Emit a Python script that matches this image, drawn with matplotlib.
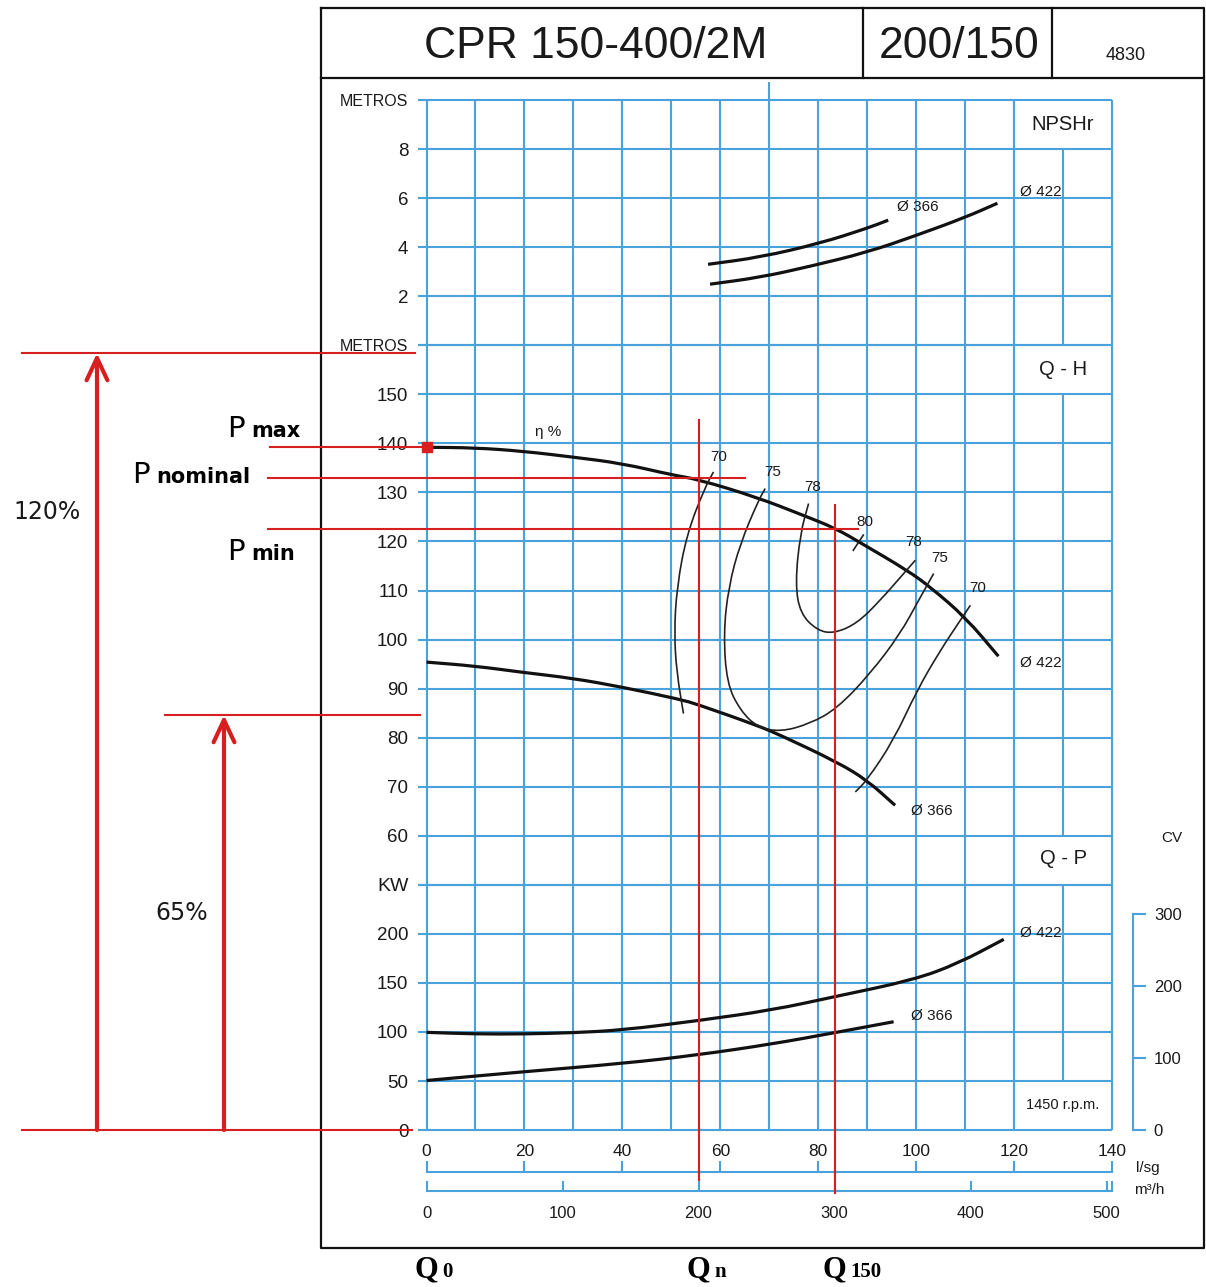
import numpy as np
import matplotlib
matplotlib.use("Agg")
import matplotlib.pyplot as plt
from matplotlib.path import Path
from matplotlib.patches import PathPatch
from matplotlib.transforms import blended_transform_factory as blend, offset_copy

plt.rcParams['font.family'] = ['Liberation Sans', 'DejaVu Sans']

# --- values (flow Q in l/s) ---
# Q-H curves (m)
H422_Q = [0, 9.9, 19.7, 29.9, 40.0, 50.4, 55.3, 67.5, 77.0, 83.5, 89.2, 98.2, 102.9, 110.1, 116.8]
H422_H = [139.2, 139.1, 138.4, 137.2, 135.9, 133.5, 132.7, 129.0, 125.3, 122.7, 119.4, 114.1, 110.7, 104.5, 96.6]
H366_Q = [0, 9.9, 19.7, 29.9, 40.0, 51.8, 55.3, 67.5, 72.3, 83.9, 90.0, 95.7]
H366_H = [95.4, 94.6, 93.3, 92.1, 90.3, 87.8, 86.8, 82.5, 80.5, 75.0, 71.3, 66.2]

# NPSHr curves (m)
NP422_Q = [57.9, 68.2, 78.4, 90.0, 100.2, 110.1, 116.6]
NP422_V = [2.49, 2.77, 3.22, 3.79, 4.49, 5.22, 5.79]
NP366_Q = [57.5, 68.2, 80.4, 90.0, 94.3]
NP366_V = [3.30, 3.59, 4.16, 4.77, 5.10]

# Q-P curves (kW)
P422_Q = [0, 10.0, 19.8, 30.1, 40.0, 55.3, 70.6, 83.3, 99.4, 108.6, 117.9]
P422_P = [99.6, 97.9, 97.9, 99.2, 101.9, 111.4, 122.3, 135.9, 152.9, 169.9, 194.4]
P366_Q = [0, 19.7, 40.4, 55.3, 70.6, 83.3, 95.4]
P366_P = [50.5, 59.4, 68.0, 76.5, 87.7, 99.2, 110.4]

# iso-efficiency lines (Q, H)
ETA70L_Q = [58.61, 56.92, 53.18, 51.13, 50.58, 51.13, 52.48]
ETA70L_H = [134.17, 131.11, 121.61, 110.72, 101.22, 93.07, 84.91]
ETA75_Q = [69.17, 67.81, 64.06, 61.68, 60.66, 61.35, 64.06, 67.48, 72.25, 78.38, 83.83, 90.65, 96.78, 100.51, 103.58]
ETA75_H = [130.78, 128.40, 119.57, 110.72, 101.22, 91.03, 85.59, 82.18, 81.16, 82.87, 85.93, 93.07, 101.22, 108.01, 113.46]
ETA78_Q = [78.03, 76.33, 75.31, 76.33, 79.75, 83.14, 87.92, 92.69, 97.45, 99.84]
ETA78_H = [127.73, 121.61, 111.42, 105.30, 101.90, 101.22, 103.26, 108.01, 113.46, 116.17]
ETA70R_Q = [87.57, 89.96, 95.40, 100.18, 104.95, 109.03, 111.08]
ETA70R_H = [68.93, 71.32, 79.47, 89.66, 97.82, 103.94, 106.99]
ETA80_Q = [87.16, 89.21]
ETA80_H = [118.2, 121.3]
ETA_LABELS = ['70', '75', '78', '80', '78', '75', '70']
ETA_LAB_Q = [59.6, 70.6, 78.8, 89.6, 99.4, 104.9, 112.5]
ETA_LAB_H = [137.2, 134.1, 131.1, 123.9, 119.8, 116.6, 110.5]

# operating points
H_MAX, H_NOM, H_MIN = 139.2, 133.0, 122.5
H_120, H_65 = 158.4, 84.6
QN_M3H, Q150_M3H = 200, 300

# axis ticks
NPSH_TICKS = [0, 2, 4, 6, 8, 10]
NPSH_LABELS = ['', '2', '4', '6', '8', 'METROS']
QH_TICKS = list(range(50, 161, 10))
QH_LABELS = [''] + [str(v) for v in range(60, 151, 10)] + ['METROS']
QP_TICKS = [0, 50, 100, 150, 200, 250]
QP_LABELS = ['0', '50', '100', '150', '200', 'KW']
LS_TICKS = list(range(0, 141, 20))
M3H_TICKS = [0, 100, 200, 300, 400, 500]
CV_TICKS = [0, 100, 200, 300]
KW_PER_CV = 0.7355

# --- layout (pixels) ---
W, HT = 1206, 1287
GRID = '#4aa2dc'
RED = '#d81f1f'
INK = '#1a1a1a'
X_LO = -1.74
LEFT, RIGHT = 418, 1112
TOP, ROW = 100, 49.05

fig = plt.figure(figsize=(W / 100, HT / 100), dpi=100)

ov = fig.add_axes([0, 0, 1, 1])
ov.set_xlim(0, W)
ov.set_ylim(HT, 0)
ov.axis('off')
ov.set_zorder(5)


def panel(r0, r1):
    top, bot = TOP + r0 * ROW, TOP + r1 * ROW
    ax = fig.add_axes([LEFT / W, 1 - bot / HT, (RIGHT - LEFT) / W, (bot - top) / HT])
    ax.set_xlim(X_LO, 140)
    ax.set_facecolor('none')
    for s in ax.spines.values():
        s.set_visible(False)
    ax.set_xticks([])
    return ax


def smooth(ax, xs, ys, **kw):
    # draw the read points as one rounded path (quadratic segments between midpoints)
    pts = np.column_stack([xs, ys])
    if len(pts) < 3:
        ax.plot(xs, ys, **kw)
        return
    verts, codes = [pts[0]], [Path.MOVETO]
    verts.append((pts[0] + pts[1]) / 2)
    codes.append(Path.LINETO)
    for i in range(1, len(pts) - 1):
        verts += [pts[i], (pts[i] + pts[i + 1]) / 2]
        codes += [Path.CURVE3, Path.CURVE3]
    verts.append(pts[-1])
    codes.append(Path.LINETO)
    ax.add_patch(PathPatch(Path(verts, codes), fill=False, edgecolor=kw['color'],
                           lw=kw['lw'], zorder=kw.get('zorder', 3), capstyle='butt'))


ax_np = panel(0, 5)
ax_qh = panel(5, 16)
ax_qp = panel(16, 21)
ax_np.set_ylim(0, 10)
ax_qh.set_ylim(50, 160)
ax_qp.set_ylim(0, 250)

xs = np.arange(0, 141, 10)
xs_full = xs[xs != 130]
for ax, ticks, labels, seg in [(ax_np, NPSH_TICKS, NPSH_LABELS, (0, 8)),
                               (ax_qh, QH_TICKS, QH_LABELS, (60, 150)),
                               (ax_qp, QP_TICKS, QP_LABELS, (50, 250))]:
    lo, hi = ax.get_ylim()
    ax.hlines(ticks, X_LO, 140, color=GRID, lw=1.5, clip_on=False, zorder=1)
    ax.vlines(xs_full, lo, hi, color=GRID, lw=1.5, clip_on=False, zorder=1)
    ax.vlines([130], seg[0], seg[1], color=GRID, lw=1.5, clip_on=False, zorder=1)
    ax.set_yticks(ticks)
    ax.set_yticklabels(labels)
    ax.tick_params(axis='y', length=0, pad=7, labelsize=13.5, labelcolor=INK)
    for t in ax.get_yticklabels():
        if t.get_text() == 'METROS':
            t.set_fontsize(11.5)
        if t.get_text() == 'KW':
            t.set_fontsize(14)

# small mark above the grid at 70 l/s
ax_np.vlines([70], 10, 10.75, color=GRID, lw=1.5, clip_on=False)

ax_qp.set_xticks(LS_TICKS)
ax_qp.tick_params(axis='x', length=0, pad=10, labelsize=12.5, labelcolor=INK)

# --- curves ---
CK = dict(color='#111111', lw=2.3, zorder=3)
smooth(ax_qh, H422_Q, H422_H, **CK)
smooth(ax_qh, H366_Q, H366_H, **CK)
smooth(ax_np, NP422_Q, NP422_V, **CK)
smooth(ax_np, NP366_Q, NP366_V, **CK)
smooth(ax_qp, P422_Q, P422_P, **CK)
smooth(ax_qp, P366_Q, P366_P, **CK)

EK = dict(color='#222222', lw=1.2, zorder=3)
for q, h in [(ETA70L_Q, ETA70L_H), (ETA75_Q, ETA75_H), (ETA78_Q, ETA78_H),
             (ETA70R_Q, ETA70R_H), (ETA80_Q, ETA80_H)]:
    smooth(ax_qh, q, h, **EK)
for t, q, h in zip(ETA_LABELS, ETA_LAB_Q, ETA_LAB_H):
    ax_qh.text(q, h, t, fontsize=11, ha='center', va='center', color=INK)
ax_qh.text(24.8, 142.3, 'η %', fontsize=11, ha='center', va='center', color=INK)

DK = dict(fontsize=11, ha='center', va='center', color=INK)
ax_qh.text(125.4, 95.2, 'Ø 422', **DK)
ax_qh.text(103.3, 65.0, 'Ø 366', **DK)
ax_np.text(100.4, 5.63, 'Ø 366', **DK)
ax_np.text(125.4, 6.24, 'Ø 422', **DK)
ax_qp.text(125.4, 200.8, 'Ø 422', **DK)
ax_qp.text(103.3, 116.2, 'Ø 366', **DK)

ax_np.text(130, 9.0, 'NPSHr', fontsize=14.5, ha='center', va='center', color=INK)
ax_qh.text(130, 155, 'Q - H', fontsize=14.5, ha='center', va='center', color=INK)
ax_qh.text(130, 55.3, 'Q - P', fontsize=14.5, ha='center', va='center', color=INK)
ax_qp.text(130, 26, '1450 r.p.m.', fontsize=10.5, ha='center', va='center', color=INK)

# --- flow scales under the grid ---
ax_ls = fig.add_axes([LEFT / W, 1 - 1172 / HT, (RIGHT - LEFT) / W, 0.0005])
ax_m3 = fig.add_axes([LEFT / W, 1 - 1191 / HT, (RIGHT - LEFT) / W, 0.0005])
for ax, lim, ticks, end in [(ax_ls, (X_LO, 140), LS_TICKS, 140), (ax_m3, (X_LO * 3.6, 504), M3H_TICKS, 504)]:
    ax.set_xlim(*lim)
    ax.set_facecolor('none')
    ax.set_yticks([])
    for k, s in ax.spines.items():
        s.set_visible(k == 'bottom')
    ax.spines['bottom'].set_color(GRID)
    ax.spines['bottom'].set_linewidth(1.5)
    ax.spines['bottom'].set_bounds(0, end)
    ax.set_xticks(ticks)
ax_ls.tick_params(axis='x', direction='in', length=8, width=1.5, color=GRID, labelbottom=False)
ax_m3.set_xticks([504], minor=True)
ax_m3.tick_params(axis='x', which='both', direction='in', length=7, width=1.5, color=GRID,
                  pad=11, labelsize=12, labelcolor=INK)

# CV scale
ax_cv = ax_qp.twinx()
ax_cv.set_ylim(0, 250 / KW_PER_CV)
for k, s in ax_cv.spines.items():
    s.set_visible(k == 'right')
ax_cv.spines['right'].set_position(('axes', (1133 - LEFT) / (RIGHT - LEFT)))
ax_cv.spines['right'].set_bounds(0, 300)
ax_cv.spines['right'].set_color(GRID)
ax_cv.spines['right'].set_linewidth(1.5)
ax_cv.set_yticks(CV_TICKS)
ax_cv.tick_params(axis='y', direction='out', length=9, width=1.5, color=GRID, pad=6,
                  labelsize=12, labelcolor=INK)
ax_cv.set_xlim(X_LO, 140)

# --- frame and header ---
FK = dict(color='#111111', lw=1.6)
ov.plot([321, 1204, 1204, 321, 321], [8, 8, 1248, 1248, 8], **FK)
ov.plot([321, 1204], [78, 78], **FK)
ov.plot([863, 863], [8, 78], **FK)
ov.plot([1052, 1052], [8, 78], **FK)
ov.text(596, 47, 'CPR 150-400/2M', fontsize=32, ha='center', va='center', color=INK)
ov.text(959, 47, '200/150', fontsize=32, ha='center', va='center', color=INK)
ov.text(1126, 56, '4830', fontsize=13, ha='center', va='center', color=INK)
ov.text(1172, 838, 'CV', fontsize=11, ha='center', va='center', color=INK)
ov.text(1136, 1168, 'l/sg', fontsize=11, ha='left', va='center', color=INK)
ov.text(1134, 1190, 'm³/h', fontsize=11, ha='left', va='center', color=INK)

# --- red annotations ---
t_qh = blend(ov.transData, ax_qh.transData)
t_qp = blend(ov.transData, ax_qp.transData)
RK = dict(color=RED, lw=1.5, zorder=6)
ov.plot([22, 415], [H_120, H_120], transform=t_qh, **RK)
ov.plot([270, 426.5], [H_MAX, H_MAX], transform=t_qh, **RK)
ov.plot([268, 745], [H_NOM, H_NOM], transform=t_qh, **RK)
ov.plot([268, 858], [H_MIN, H_MIN], transform=t_qh, **RK)
ov.plot([165, 420], [H_65, H_65], transform=t_qh, **RK)
ov.plot([22, 412], [0, 0], transform=t_qp, **RK)
ax_qh.plot([0], [H_MAX], marker='s', ms=7, color=RED, clip_on=False, zorder=7)

t_qv = blend(ax_qh.transData, ov.transData)
ov.plot([QN_M3H / 3.6] * 2, [420, 1180], transform=t_qv, **RK)
ov.plot([Q150_M3H / 3.6] * 2, [505, 1193], transform=t_qv, **RK)

AK = dict(arrowstyle='->,head_length=1.6,head_width=0.75', color=RED, lw=3,
          shrinkA=0, shrinkB=0)
ov.annotate('', xy=(97, H_120), xycoords=t_qh, xytext=(97, 0), textcoords=t_qp, arrowprops=AK)
ov.annotate('', xy=(224, H_65), xycoords=t_qh, xytext=(224, 0), textcoords=t_qp, arrowprops=AK)

ov.text(47, 512, '120%', fontsize=17, family='DejaVu Sans', ha='center', va='center', color=INK)
ov.text(182, 913, '65%', fontsize=17, family='DejaVu Sans', ha='center', va='center', color=INK)

PK = dict(fontsize=21, family='DejaVu Sans', ha='left', va='baseline', color='#000000')
SK = dict(fontsize=15, family='DejaVu Sans', weight='bold', ha='left', va='baseline', color='#000000')
for x, y, sub in [(227, 437, 'max'), (132, 483, 'nominal'), (227, 560, 'min')]:
    ov.text(x, y, 'P', **PK)
    ov.text(x + 24, y, sub, **SK)

QK = dict(fontsize=22, family='Liberation Serif', weight='bold', ha='center', va='baseline', color='#000000')
QS = dict(fontsize=15, family='Liberation Serif', weight='bold', ha='left', va='baseline', color='#000000')
for q, sub in [(0, '0'), (QN_M3H / 3.6, 'n'), (Q150_M3H / 3.6, '150')]:
    ov.text(q, 1277, 'Q', transform=t_qv, **QK)
    ov.text(q, 1277, sub, transform=offset_copy(t_qv, fig=fig, x=16, y=0, units='dots'), **QS)

fig.savefig('out.png', dpi=100)
